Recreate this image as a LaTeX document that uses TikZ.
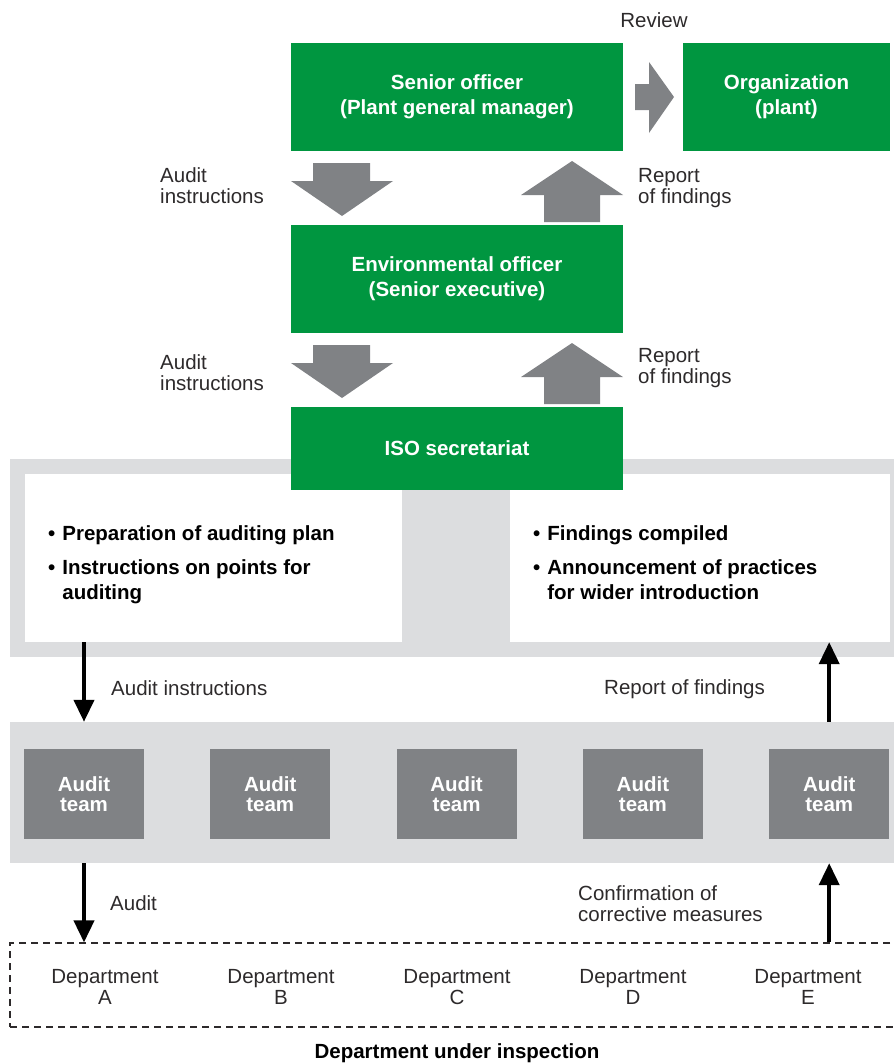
\documentclass[tikz,border=0pt]{standalone}
\usepackage{fontspec}
\setmainfont{Liberation Sans}
\usetikzlibrary{arrows.meta}
\definecolor{isogreen}{RGB}{0,150,64}
\definecolor{arrowgray}{RGB}{128,130,133}
\definecolor{bandgray}{RGB}{220,221,223}
\definecolor{labelgray}{RGB}{45,42,43}
\begin{document}
\begin{tikzpicture}[x=1pt, y=-1pt, >={Triangle[width=20pt,length=22pt]}]
\tikzset{every node/.style={font=\fontsize{20.5}{21}\selectfont, inner sep=0pt, text=labelgray},
  greenbox/.style={rectangle, fill=isogreen, text=white, align=center, minimum width=332, minimum height=108, font=\fontsize{20.5}{25}\selectfont\bfseries},
  band/.style={rectangle, fill=bandgray, minimum width=884},
  whitebox/.style={rectangle, fill=white, minimum height=168},
  teambox/.style={rectangle, fill=arrowgray, text=white, align=center, minimum width=120, minimum height=90, font=\fontsize{20.5}{20.5}\selectfont\bfseries},
  bullets/.style={anchor=base west, text=black, font=\fontsize{20.5}{25}\selectfont\bfseries},
  lbl/.style={anchor=west, align=left},
  flow/.style={->, line width=4pt, black}}
\useasboundingbox (0,0) rectangle (894,1063);
% top part
\node[greenbox] (senior) at (457,97) {Senior officer\\(Plant general manager)};
\node[greenbox, minimum width=207] (org) at (786.5,97) {Organization\\(plant)};
\node[greenbox] (envofficer) at (457,279) {Environmental officer\\(Senior executive)};
\fill[arrowgray] (635,84) -- (649,84) -- (649,62) -- (674,97) -- (649,133) -- (649,110) -- (635,110) -- cycle;
\node (review) at (654,20) {Review};
\foreach \dy in {0,182}{
  \fill[arrowgray, shift={(0,\dy)}] (313,163) -- (370,163) -- (370,181) -- (393,181) -- (342,216) -- (291,181) -- (313,181) -- cycle;
  \fill[arrowgray, shift={(0,\dy)}] (572,161) -- (623,195) -- (600,195) -- (600,222) -- (544,222) -- (544,195) -- (521,195) -- cycle;
}
\node[lbl] (instr1) at (160,185.5) {Audit\\instructions};
\node[lbl] (report1) at (638,188) {Report\\of findings};
\node[lbl] (instr2) at (160,372.5) {Audit\\instructions};
\node[lbl] (report2) at (638,368.5) {Report\\of findings};
% secretariat
\node[band, minimum height=198] (planband) at (452,558) {};
\node[whitebox, minimum width=377] (prep) at (213.5,558) {};
\node[whitebox, minimum width=380] (findings) at (700,558) {};
\node[greenbox, minimum height=83] (iso) at (457,448.5) {ISO secretariat};
\node[bullets] (preptext) at (48,540) {\begin{tabular}[t]{@{}l@{\hspace{7pt}}l@{}}•&Preparation of auditing plan\\[9pt]•&Instructions on points for\\&auditing\end{tabular}};
\node[bullets] (findtext) at (533,540) {\begin{tabular}[t]{@{}l@{\hspace{7pt}}l@{}}•&Findings compiled\\[9pt]•&Announcement of practices\\&for wider introduction\end{tabular}};
% audit teams
\node[band, minimum height=141] (teamband) at (452,792.5) {};
\foreach \i/\x in {A/84,B/270.3,C/456.6,D/642.9,E/829.2}
  \node[teambox] (team\i) at (\x,794) {Audit\\team};
% departments
\node[rectangle, draw=labelgray, line width=1.2pt, dash pattern=on 7pt off 5pt, minimum width=890, minimum height=84] (depts) at (455,985) {};
\foreach \i/\x in {A/105,B/281,C/457,D/633,E/808}
  \node[align=center, anchor=north] (dept\i) at (\x,969) {Department\\\i};
\node[text=black, font=\fontsize{20.5}{21}\selectfont\bfseries] (inspection) at (457,1053) {Department under inspection};
% arrows
\draw[flow] (teamA |- prep.south) -- (teamA |- teamband.north);
\draw[flow] (teamE |- teamband.north) -- (teamE |- findings.south);
\draw[flow] (teamA |- teamband.south) -- (teamA |- depts.north);
\draw[flow] (teamE |- depts.north) -- (teamE |- teamband.south);
\node[lbl] (instr3) at (111,688) {Audit instructions};
\node[lbl] (report3) at (604,689) {Report of findings};
\node[lbl] (audit) at (110,903) {Audit};
\node[lbl] (confirm) at (578,903.5) {Confirmation of\\corrective measures};
\end{tikzpicture}
\end{document}
